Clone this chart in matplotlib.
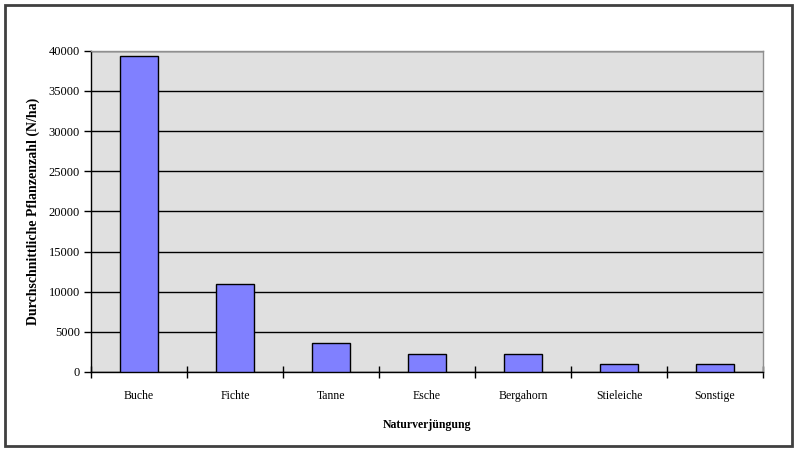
import matplotlib
matplotlib.use("Agg")
import matplotlib.pyplot as plt
from matplotlib.patches import Rectangle
import numpy as np

categories = ["Buche", "Fichte", "Tanne", "Esche", "Bergahorn", "Stieleiche", "Sonstige"]
values = [39380, 10990, 3570, 2280, 2280, 1030, 1030]
yticks = [0, 5000, 10000, 15000, 20000, 25000, 30000, 35000, 40000]

plt.rcParams['font.family'] = ['Liberation Serif', 'DejaVu Serif']

fig = plt.figure(figsize=(8, 4.59), dpi=100)
ax = fig.add_axes([91/800, 1-372/459, (763-91)/800, (372-50.7)/459])
ax.set_facecolor('#E0E0E0')

x = np.arange(len(categories))
ax.bar(x, values, width=0.4, color='#8080FF', edgecolor='black', linewidth=1, zorder=3)

ax.set_xlim(-0.5, len(categories) - 0.5)
ax.set_ylim(0, 40000)
ax.set_yticks(yticks)
ax.set_yticklabels([str(v) for v in yticks], fontsize=9)
ax.yaxis.grid(True, color='black', linewidth=1, zorder=1)
ax.set_axisbelow(True)

ax.set_xticks(x)
ax.set_xticklabels(categories, fontsize=8.5)
ax.set_xticks(np.arange(-0.5, len(categories)), minor=True)
ax.tick_params(axis='x', which='major', length=0, pad=13)
ax.tick_params(axis='x', which='minor', direction='inout', length=8, width=1, color='black')
ax.tick_params(axis='y', which='major', direction='out', length=5, width=1, color='black', pad=3)

for s in ['top', 'right']:
    ax.spines[s].set_color('#909090')
    ax.spines[s].set_linewidth(1)
for s in ['left', 'bottom']:
    ax.spines[s].set_color('black')
    ax.spines[s].set_linewidth(1)

ax.set_xlabel("Naturverjüngung", fontsize=8.5, fontweight='bold', labelpad=12)
ax.set_ylabel("Durchschnittliche Pflanzenzahl (N/ha)", fontsize=10, fontweight='bold', labelpad=6)

fig.patches.append(Rectangle((5/800, 1-446/459), 787/800, 441/459, transform=fig.transFigure,
                             fill=False, edgecolor='#404040', linewidth=2))

fig.savefig("out.png", dpi=100)
